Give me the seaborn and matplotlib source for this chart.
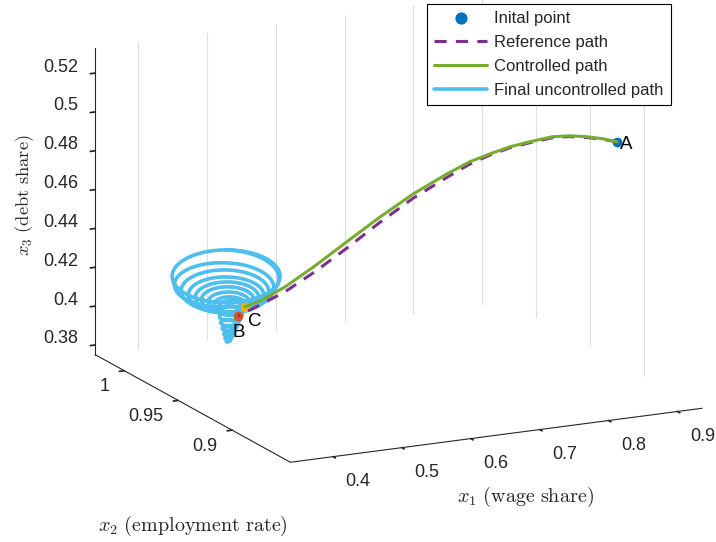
import numpy as np
import matplotlib
matplotlib.use("Agg")
import matplotlib.pyplot as plt
import seaborn as sns
from mpl_toolkits.mplot3d import proj3d

# ---------------------------------------------------------------
# Trajectories in (x1 wage share, x2 employment rate, x3 debt share)
# ---------------------------------------------------------------
# controlled path, from A to C
ctrl_x1 = [0.897, 0.879, 0.860, 0.840, 0.820, 0.793, 0.769, 0.745, 0.720,
           0.692, 0.649, 0.607, 0.566, 0.526, 0.487, 0.457, 0.433]
ctrl_x2 = [0.900, 0.902, 0.905, 0.908, 0.911, 0.915, 0.918, 0.921, 0.924,
           0.927, 0.931, 0.935, 0.939, 0.943, 0.946, 0.948, 0.949]
ctrl_x3 = [0.4975, 0.4993, 0.5003, 0.5008, 0.5003, 0.4977, 0.4953, 0.4919,
           0.4880, 0.4822, 0.4726, 0.4614, 0.4496, 0.4378, 0.4278, 0.4219,
           0.4190]

# reference path, from A to B
ref_x1 = [0.897, 0.879, 0.860, 0.840, 0.820, 0.793, 0.769, 0.745, 0.720,
          0.692, 0.649, 0.607, 0.566, 0.526, 0.487, 0.457, 0.425]
ref_x2 = [0.900, 0.902, 0.905, 0.908, 0.911, 0.915, 0.918, 0.921, 0.924,
          0.927, 0.931, 0.935, 0.939, 0.943, 0.946, 0.948, 0.950]
ref_x3 = [0.4975, 0.4990, 0.4999, 0.5004, 0.4998, 0.4972, 0.4948, 0.4913,
          0.4868, 0.4804, 0.4704, 0.4587, 0.4463, 0.4348, 0.4253, 0.4199,
          0.4144]

# final uncontrolled path: one entry per turn of the spiral
# (centre of the turn and its amplitude in wage share / employment rate)
unc_x1_centre = [0.4075, 0.4075, 0.4061, 0.4082, 0.4097, 0.4111, 0.4118, 0.4133,
                 0.4147, 0.4155, 0.4147, 0.4133, 0.4126, 0.4118, 0.4111, 0.4104,
                 0.4104]
unc_x2_centre = [0.950] * 17
unc_x3_level = [0.4357, 0.4357, 0.4301, 0.4280, 0.4258, 0.4247, 0.4235, 0.4223,
                0.4207, 0.4197, 0.4170, 0.4139, 0.4109, 0.4078, 0.4052, 0.4032,
                0.4016]
unc_x1_amp = [0.0847, 0.0847, 0.0784, 0.0682, 0.0588, 0.0494, 0.0408, 0.0314,
              0.0251, 0.0195, 0.0188, 0.0165, 0.0133, 0.0102, 0.0071, 0.0047,
              0.0024]
unc_x2_amp = [0.0371, 0.0371, 0.0344, 0.0299, 0.0258, 0.0216, 0.0179, 0.0137,
              0.0110, 0.0085, 0.0082, 0.0072, 0.0058, 0.0045, 0.0031, 0.0021,
              0.0010]
PHASE_LAG = 0.464    # employment lags wage share (rad)
START_ANGLE = -0.85  # spiral starts at the back of the outer turn

# labelled points
point_A = (0.897, 0.900, 0.4975)
point_B = (0.425, 0.950, 0.4144)
point_C = (0.433, 0.949, 0.4190)

# axes
X1_LIM = (0.338, 0.936)
X2_LIM = (0.846, 1.027)
X3_LIM = (0.375, 0.533)
x1_ticks = [0.4, 0.5, 0.6, 0.7, 0.8, 0.9]
x1_ticklabels = ["0.4", "0.5", "0.6", "0.7", "0.8", "0.9"]
x2_ticks = [0.9, 0.95, 1.0]
x2_ticklabels = ["0.9", "0.95", "1"]
x3_ticks = [0.38, 0.40, 0.42, 0.44, 0.46, 0.48, 0.50, 0.52]
x3_ticklabels = ["0.38", "0.4", "0.42", "0.44", "0.46", "0.48", "0.5", "0.52"]

legend_labels = ["Inital point", "Reference path", "Controlled path",
                 "Final uncontrolled path"]

# ---------------------------------------------------------------
sns.set_theme(style="white")
plt.rcParams["font.family"] = ["Liberation Sans", "DejaVu Sans"]
plt.rcParams["mathtext.fontset"] = "cm"
palette = sns.color_palette(["#0072BD", "#D95319", "#EDB120", "#7E2F8E",
                             "#77AC30", "#4DBEEE"])
c_blue, c_orange, c_yellow, c_purple, c_green, c_cyan = palette
TXT = "#262626"

W, H = 716, 542
fig = plt.figure(figsize=(W / 100, H / 100), dpi=100)
fig.patch.set_facecolor("white")
ax = fig.add_axes([0, 0, 1, 1], projection="3d")
ax.set_proj_type("ortho")
ax.view_init(elev=15.6, azim=-116)
ax.set_box_aspect((456, 443, 317))
ax.set_xlim(*X1_LIM)
ax.set_ylim(*X2_LIM)
ax.set_zlim(*X3_LIM)
ax.computed_zorder = False
ax.grid(False)

for axis in (ax.xaxis, ax.yaxis, ax.zaxis):
    axis.set_pane_color((1, 1, 1, 0))
    axis.pane.set_edgecolor((1, 1, 1, 0))
    axis.line.set_color(TXT)
    axis.line.set_linewidth(0.8)
    axis._axinfo["tick"]["inward_factor"] = 0.15
    axis._axinfo["tick"]["outward_factor"] = 0.0
    axis.label.set_visible(False)
    axis.offsetText.set_visible(False)

ax.set_xticks(x1_ticks)
ax.set_yticks(x2_ticks)
ax.set_zticks(x3_ticks)
ax.set_xticklabels([])
ax.set_yticklabels([])
ax.set_zticklabels([])
ax.tick_params(axis="both", colors=TXT, width=0.8)

# vertical grid lines on the two back walls
for t in x1_ticks:
    ax.plot([t, t], [X2_LIM[1]] * 2, list(X3_LIM), color="#dedede", lw=0.8, zorder=0)
for t in x2_ticks:
    ax.plot([X1_LIM[1]] * 2, [t, t], list(X3_LIM), color="#dedede", lw=0.8, zorder=0)

# spiral of the final uncontrolled path
turn_idx = np.arange(len(unc_x1_centre))
turn = np.linspace(0, turn_idx[-1], 2600)
theta = 2 * np.pi * turn + START_ANGLE
unc_x1 = np.interp(turn, turn_idx, unc_x1_centre) + np.interp(turn, turn_idx, unc_x1_amp) * np.cos(theta)
unc_x2 = np.interp(turn, turn_idx, unc_x2_centre) - np.interp(turn, turn_idx, unc_x2_amp) * np.sin(theta - PHASE_LAG)
unc_x3 = np.interp(turn, turn_idx, unc_x3_level)

h_init, = ax.plot([point_A[0]], [point_A[1]], [point_A[2]], "o", color=c_blue,
                  ms=6, ls="none", zorder=2, label=legend_labels[0])
h_unc, = ax.plot(unc_x1, unc_x2, unc_x3, color=c_cyan, lw=2.6, zorder=3,
                 label=legend_labels[3], solid_capstyle="round")
ax.plot([point_B[0]], [point_B[1]], [point_B[2]], "o", color=c_orange, ms=6, zorder=4)
ax.plot([point_C[0]], [point_C[1]], [point_C[2]], "o", color=c_yellow, ms=6, zorder=4)
h_ref, = ax.plot(ref_x1, ref_x2, ref_x3, color=c_purple, lw=2.2, ls=(0, (4, 3)),
                 zorder=5, label=legend_labels[1])
h_ctrl, = ax.plot(ctrl_x1, ctrl_x2, ctrl_x3, color=c_green, lw=2.2, zorder=6,
                  label=legend_labels[2])

# fit the projected box to the figure
corners = [(X1_LIM[0], X2_LIM[0], X3_LIM[0]), (X1_LIM[1], X2_LIM[0], X3_LIM[0]),
           (X1_LIM[0], X2_LIM[1], X3_LIM[0]), (X1_LIM[0], X2_LIM[1], X3_LIM[1])]
targets = np.array([(290, 462), (703, 408), (95, 354), (95, 49)], dtype=float)
fig.canvas.draw()
M = ax.get_proj()
bb = ax.bbox
S0 = bb.width
c0 = np.array([bb.x0 + bb.width / 2, H - (bb.y0 + bb.height / 2)])
f = []
for pt in corners:
    xs, ys, _ = proj3d.proj_transform(*pt, M)
    dx, dy = ax.transData.transform((xs, ys))
    f.append((np.array([dx, H - dy]) - c0) / S0)
f = np.array(f)
fm, tm = f.mean(axis=0), targets.mean(axis=0)
S = np.sum((targets - tm) * (f - fm)) / np.sum((f - fm) ** 2)
c = tm - S * fm
ax.set_position([(c[0] - S / 2) / W, (H - c[1] - S / 2) / H, S / W, S / H])
fig.canvas.draw()
M = ax.get_proj()


def label_at(x, y, z, s, dx, dy, **kw):
    """Place a 2D text at the projected position of a 3D point (+ pixel offset)."""
    xs, ys, _ = proj3d.proj_transform(x, y, z, M)
    px, py = ax.transData.transform((xs, ys))
    fig.text((px + dx) / W, (py + dy) / H, s, **kw)


# tick labels next to their ticks
for t, s in zip(x1_ticks, x1_ticklabels):
    label_at(t, X2_LIM[0], X3_LIM[0], s, 25, -25, ha="center", va="center",
             fontsize=13, color=TXT)
for t, s in zip(x2_ticks, x2_ticklabels):
    label_at(X1_LIM[0], t, X3_LIM[0], s, -15, -16, ha="right", va="center",
             fontsize=13, color=TXT)
for t, s in zip(x3_ticks, x3_ticklabels):
    label_at(X1_LIM[0], X2_LIM[1], t, s, -17, 6, ha="right", va="center",
             fontsize=13, color=TXT)

# point labels
label_at(*point_A, "A", 3, -3, ha="left", va="center", fontsize=13.5, color="black")
label_at(*point_B, "B", 1, -8, ha="center", va="top", fontsize=13.5, color="black")
label_at(*point_C, "C", 3, -6, ha="left", va="top", fontsize=13.5, color="black")

# axis titles
fig.text(525 / W, 1 - 497 / H, r"$x_1\ \mathrm{(wage\ share)}$", ha="center",
         va="center", fontsize=14.5, color=TXT)
fig.text(193 / W, 1 - 526 / H, r"$x_2\ \mathrm{(employment\ rate)}$", ha="center",
         va="center", fontsize=14.5, color=TXT)
fig.text(25 / W, 1 - 195 / H, r"$x_3\ \mathrm{(debt\ share)}$", ha="center",
         va="center", rotation=90, fontsize=13.3, color=TXT)

leg = ax.legend(handles=[h_init, h_ref, h_ctrl, h_unc], loc="upper right",
                bbox_to_anchor=(671 / W, 1 - 4 / H), bbox_transform=fig.transFigure,
                borderaxespad=0, fontsize=12, handlelength=3.2, labelspacing=0.52,
                frameon=True, fancybox=False, edgecolor="black", framealpha=1,
                markerscale=1.3, borderpad=0.45, handletextpad=0.4)
leg.get_frame().set_linewidth(0.8)

fig.savefig("out.png", dpi=100, facecolor="white")
